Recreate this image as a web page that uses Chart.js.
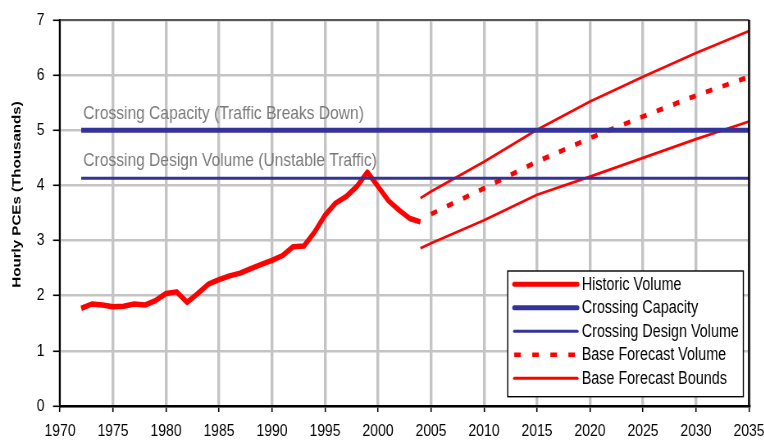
<!DOCTYPE html>
<html>
<head>
<meta charset="utf-8">
<script src="https://cdn.jsdelivr.net/npm/chart.js@4.4.1/dist/chart.umd.min.js"></script>
<style>
  html, body { margin: 0; padding: 0; background: #ffffff; overflow: hidden; }
  #wrap { position: absolute; left: 0; top: 0; width: 932px; height: 441px;
          transform: scaleX(0.82); transform-origin: 0 0; }
  canvas { display: block; }
</style>
</head>
<body>
<div id="wrap"><canvas id="c" width="932" height="441"></canvas></div>
<script>
// ---------------- data ----------------
const historicYears = [1972,1973,1974,1975,1976,1977,1978,1979,1980,1981,1982,1983,1984,1985,1986,1987,1988,
                       1989,1990,1991,1992,1993,1994,1995,1996,1997,1998,1999,2000,2001,2002,2003,2004];
const historicVolume = [1.77,1.85,1.83,1.80,1.81,1.85,1.83,1.91,2.04,2.07,1.88,2.04,2.21,2.29,2.36,2.41,2.49,
                        2.57,2.64,2.73,2.89,2.90,3.15,3.46,3.68,3.80,3.98,4.24,3.98,3.72,3.55,3.40,3.34];
const forecastYears = [2005,2010,2015,2020,2025,2030,2035];
const baseForecast  = [3.48,3.95,4.43,4.86,5.25,5.63,5.97];
const boundYears    = [2004,2005,2010,2015,2020,2025,2030,2035];
const upperBound    = [3.77,3.89,4.43,5.01,5.52,5.97,6.40,6.80];
const lowerBound    = [2.86,2.95,3.37,3.83,4.16,4.50,4.84,5.16];
const capacityYears = [1972,2035];
const capacityValue = 5.0;
const designValue   = 4.13;
const xTicks = [1970,1975,1980,1985,1990,1995,2000,2005,2010,2015,2020,2025,2030,2035];
const yTicks = [0,1,2,3,4,5,6,7];
const seriesLabels = ['Historic Volume','Crossing Capacity','Crossing Design Volume','Base Forecast Volume','Base Forecast Bounds'];
const capacityNote = 'Crossing Capacity (Traffic Breaks Down)';
const designNote   = 'Crossing Design Volume (Unstable Traffic)';
const yTitle = 'Hourly PCEs (Thousands)';

// ---------------- styling ----------------
const SX = 0.82;                 // horizontal squeeze of the whole picture
const RED = '#ff0000';
const NAVY = '#333399';
const FONT = "'Liberation Sans', Arial, sans-serif";

const pts = (xs, ys) => xs.map((x, i) => ({ x: x, y: ys[i] }));

const datasets = [
  { label: seriesLabels[1], data: pts(capacityYears, capacityYears.map(() => capacityValue)),
    borderColor: NAVY, borderWidth: 5, legendWidth: 5 },
  { label: seriesLabels[2], data: pts(capacityYears, capacityYears.map(() => designValue)),
    borderColor: NAVY, borderWidth: 3, legendWidth: 3 },
  { label: seriesLabels[4], data: pts(boundYears, upperBound),
    borderColor: RED, borderWidth: 2.7, legendWidth: 3 },
  { label: seriesLabels[4], data: pts(boundYears, lowerBound),
    borderColor: RED, borderWidth: 2.7, legendSkip: true },
  { label: seriesLabels[3], data: pts(forecastYears, baseForecast),
    borderColor: RED, borderWidth: 4.8, borderDash: [8, 13], legendWidth: 4.5, legendDash: [8, 14] },
  { label: seriesLabels[0], data: pts(historicYears, historicVolume),
    borderColor: RED, borderWidth: 5.5, legendWidth: 5 }
].map(d => Object.assign({ pointRadius: 0, tension: 0, fill: false,
                           borderJoinStyle: 'round', borderCapStyle: 'butt' }, d));

// Plot-area placement (in canvas units)
const PLOT_LEFT = 60 / SX, PLOT_RIGHT = 749 / SX, PLOT_TOP = 20, PLOT_BOTTOM = 406;
const CW = 932, CH = 441;

const decorPlugin = {
  id: 'decor',
  beforeDatasetsDraw(chart) {
    const { ctx, scales: { x, y } } = chart;
    ctx.save();
    ctx.font = '19px ' + FONT;
    ctx.fillStyle = '#7a7a7a';
    ctx.textAlign = 'left';
    ctx.textBaseline = 'alphabetic';
    ctx.fillText(capacityNote, x.getPixelForValue(1972.2), y.getPixelForValue(capacityValue) - 11);
    ctx.fillText(designNote, x.getPixelForValue(1972.2), y.getPixelForValue(designValue) - 12);
    ctx.restore();
  },
  afterDraw(chart) {
    const { ctx, chartArea: a } = chart;
    ctx.save();
    // top & right frame
    ctx.strokeStyle = '#333333';
    ctx.lineWidth = 1.5;
    ctx.beginPath(); ctx.moveTo(a.left, a.top); ctx.lineTo(a.right, a.top); ctx.stroke();
    ctx.strokeStyle = '#000000';
    ctx.lineWidth = 2.4;
    ctx.beginPath(); ctx.moveTo(a.right, a.top); ctx.lineTo(a.right, a.bottom); ctx.stroke();

    // y-axis title
    ctx.save();
    ctx.translate(17 / SX, 194.5);
    ctx.rotate(-Math.PI / 2);
    ctx.scale(1.08, 1);
    ctx.font = 'bold 14px ' + FONT;
    ctx.fillStyle = '#000';
    ctx.textAlign = 'center';
    ctx.textBaseline = 'middle';
    ctx.fillText(yTitle, 0, 0);
    ctx.restore();

    // legend
    const items = [];
    seriesLabels.forEach(lbl => {
      const ds = chart.data.datasets.find(d => d.label === lbl && !d.legendSkip);
      if (ds) items.push(ds);
    });
    const bw = 287.4, bh = 125.7;
    const bx = a.right - 6.9 - bw, by = a.bottom - 9.3 - bh;
    ctx.fillStyle = '#ffffff';
    ctx.fillRect(bx, by, bw, bh);
    ctx.strokeStyle = '#000';
    ctx.lineWidth = 1.4;
    ctx.strokeRect(bx, by, bw, bh);
    ctx.font = '17.5px ' + FONT;
    ctx.textAlign = 'left';
    ctx.textBaseline = 'middle';
    items.forEach((ds, i) => {
      const cy = by + 13.3 + i * 23.5;
      ctx.save();
      ctx.strokeStyle = ds.borderColor;
      ctx.lineWidth = ds.legendWidth;
      ctx.lineCap = ds.legendDash ? 'butt' : 'round';
      ctx.setLineDash(ds.legendDash || []);
      ctx.beginPath(); ctx.moveTo(bx + 8, cy); ctx.lineTo(bx + 85, cy); ctx.stroke();
      ctx.restore();
      ctx.fillStyle = '#000';
      ctx.fillText(ds.label, bx + 90.3, cy + 0.5);
    });
    ctx.restore();
  }
};

new Chart(document.getElementById('c'), {
  type: 'line',
  data: { datasets: datasets },
  plugins: [decorPlugin],
  options: {
    responsive: false,
    animation: false,
    devicePixelRatio: 1,
    layout: { padding: { left: 0, top: PLOT_TOP, right: CW - PLOT_RIGHT, bottom: 0 } },
    plugins: { legend: { display: false }, tooltip: { enabled: false } },
    scales: {
      x: {
        type: 'linear', min: xTicks[0], max: xTicks[xTicks.length - 1],
        afterBuildTicks: s => { s.ticks = xTicks.map(v => ({ value: v })); },
        afterFit: s => { s.height = CH - PLOT_BOTTOM; s.paddingLeft = 0; s.paddingRight = 0; },
        ticks: { callback: v => String(v), color: '#000', font: { family: FONT, size: 17 },
                 padding: 9, maxRotation: 0, autoSkip: false },
        grid: { color: '#c4c4c4', lineWidth: 3.4, tickColor: '#000', tickLength: 6, tickWidth: 1.6 },
        border: { color: '#000', width: 2.4 }
      },
      y: {
        type: 'linear', min: yTicks[0], max: yTicks[yTicks.length - 1],
        afterBuildTicks: s => { s.ticks = yTicks.map(v => ({ value: v })); },
        afterFit: s => { s.width = PLOT_LEFT; s.paddingTop = 0; s.paddingBottom = 0; },
        ticks: { color: '#000', font: { family: FONT, size: 17 }, padding: 10.5 },
        grid: { color: '#c4c4c4', lineWidth: 2.6, tickColor: '#000', tickLength: 8.5, tickWidth: 1.6 },
        border: { color: '#000', width: 2 }
      }
    }
  }
});
</script>
</body>
</html>
